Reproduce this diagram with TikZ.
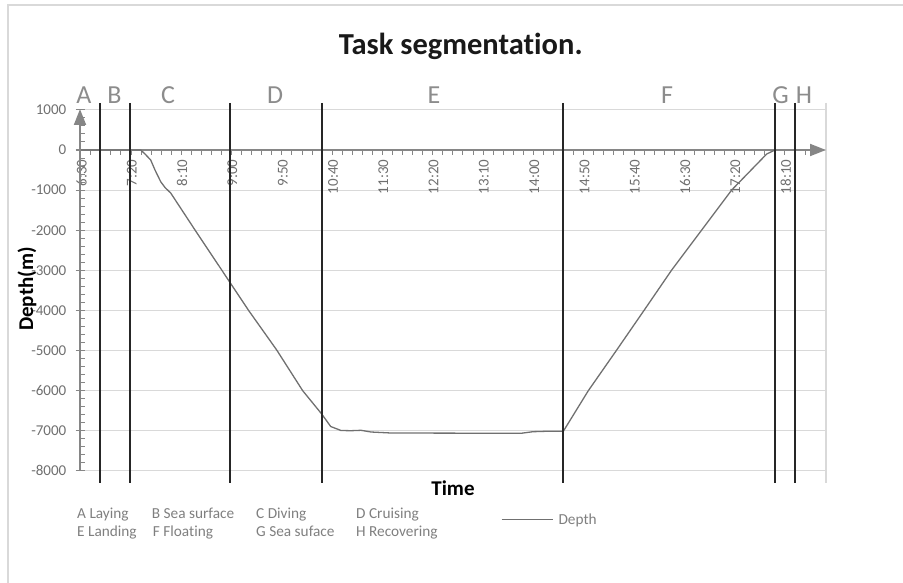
\documentclass[tikz,border=0pt]{standalone}
\usepackage{fontspec}
\setmainfont{Carlito}[Ligatures={NoCommon}]
\usetikzlibrary{arrows.meta}
\definecolor{axisgray}{HTML}{868686}
\definecolor{gridgray}{HTML}{D9D9D9}
\definecolor{labgray}{HTML}{6F6F6F}
\definecolor{letgray}{HTML}{8C8C8C}
\definecolor{leggray}{HTML}{7F7F7F}
\definecolor{curvegray}{HTML}{707070}
\begin{document}
\begin{tikzpicture}[x=1pt,y=-1pt,
  gridline/.style={draw=gridgray,line width=1.1pt},
  axisline/.style={draw=axisgray,line width=1.9pt,-{Triangle[length=16pt,width=12pt]}},
  tickmark/.style={draw=axisgray,line width=1pt},
  segline/.style={draw=black!85,line width=1.7pt},
  curve/.style={draw=curvegray,line width=1.3pt,line join=round},
  ylab/.style={text=labgray,font=\fontsize{15}{18}\selectfont,anchor=east,inner sep=0pt},
  xlab/.style={text=labgray,font=\fontsize{15}{18}\selectfont,anchor=east,inner sep=0pt,rotate=90},
  seglab/.style={text=letgray,font=\fontsize{26}{30}\selectfont,anchor=base,inner sep=0pt},
  legtext/.style={text=leggray,font=\fontsize{15.3}{18}\selectfont,anchor=base west,inner sep=0pt},
  axtitle/.style={text=black,font=\bfseries\fontsize{21}{25}\selectfont,anchor=base,inner sep=0pt}]
\useasboundingbox (0,0) rectangle (903,583);
% outer chart border
\draw[gridline] (8,583) -- (8,5) -- (903,5);
% title
\node[text=black!90,font=\bfseries\fontsize{30.5}{34}\selectfont,anchor=base,inner sep=0pt] (title) at (460.7,54.3) {Task segmentation.};
% horizontal gridlines
\foreach \k in {-1,...,8} \draw[gridline] (80,{150+40.1*\k}) -- (826,{150+40.1*\k});
% right plot border
\draw[gridline] (826,103) -- (826,483);
% y tick labels
\foreach \k/\lab in {-1/1000,0/0,1/-1000,2/-2000,3/-3000,4/-4000,5/-5000,6/-6000,7/-7000,8/-8000}
  \node[ylab] (yl\k) at (66.5,{150+40.1*\k}) {\lab};
% y ticks
\foreach \k in {0,...,45} \draw[tickmark] (80,{109.9+8.02*\k}) -- (85,{109.9+8.02*\k});
\foreach \k in {-1,...,8} \draw[tickmark] (75.5,{150+40.1*\k}) -- (80,{150+40.1*\k});
% x ticks
\foreach \k in {0,...,72} \draw[tickmark] ({80.7+10.06*\k},150) -- ({80.7+10.06*\k},155);
% x tick labels
\foreach \lab [count=\j from 0] in {6:30,7:20,8:10,9:00,9:50,10:40,11:30,12:20,13:10,14:00,14:50,15:40,16:30,17:20,18:10}
  \node[xlab] (xl\j) at ({81.5+50.3*\j},159.5) {\lab};
% axes
\coordinate (xs) at (76,150);
\coordinate (xe) at (826,150);
\coordinate (ys) at (80,471);
\coordinate (ye) at (80,109);
\draw[axisline] (xs) -- (xe);
\draw[axisline] (ys) -- (ye);
% depth curve
\draw[curve] plot coordinates {(81,150) (140.7,150) (145,154) (150.7,160) (155,170) (160.7,181.7) (165,187.5) (170.7,193) (195,230) (221.7,270) (248.3,310) (276.7,350) (302.7,390.7) (321.7,414) (330.7,426.5) (341,430.5) (351,430.7) (361,430.3) (371,432) (391,433) (521,433.3) (533,431.7) (546,431.3) (563.3,431.3) (588.3,390.7) (616.7,350) (644.3,310) (671.7,270) (701.7,230) (731.7,190) (766.7,154) (775,150)};
% segment lines
\foreach \x [count=\i] in {100,130,230,321.7,563.3,775,795} {
  \coordinate (st\i) at (\x,103);
  \coordinate (sb\i) at (\x,483.3);
  \draw[segline] (st\i) -- (sb\i);
}
% segment letters
\foreach \x/\l in {84/A,114.5/B,168/C,275/D,434/E,667/F,780.5/G,804/H}
  \node[seglab] (lab\l) at (\x,104) {\l};
% axis titles
\node[axtitle] (timelab) at (453,495) {Time};
\node[axtitle,rotate=90] (depthlab) at (33,289) {Depth(m)};
% legend
\node[legtext] (la) at (77,518.3) {A Laying};
\node[legtext] (lb) at (151.7,518.3) {B Sea surface};
\node[legtext] (lc) at (256,518.3) {C Diving};
\node[legtext] (ld) at (356,518.3) {D Cruising};
\node[legtext] (le) at (77,536.7) {E Landing};
\node[legtext] (lf) at (152.7,536.7) {F Floating};
\node[legtext] (lg) at (256,536.7) {G Sea suface};
\node[legtext] (lh) at (356,536.7) {H Recovering};
\coordinate (lls) at (501.7,519.3);
\coordinate (lle) at (552.7,519.3);
\draw[curve] (lls) -- (lle);
\node[legtext] (ldepth) at (558.3,524) {Depth};
\end{tikzpicture}
\end{document}
